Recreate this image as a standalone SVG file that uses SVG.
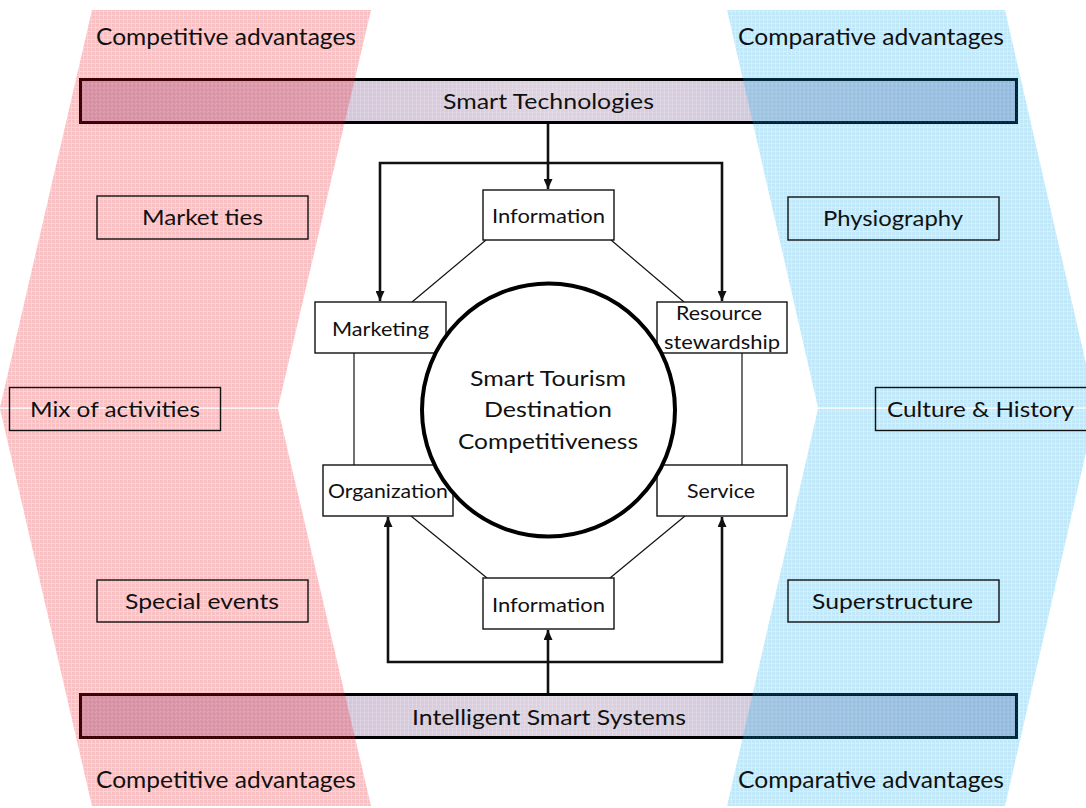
<svg xmlns="http://www.w3.org/2000/svg" width="1086" height="808" viewBox="0 0 1086 808">
<style>
text{font-family:Lato,"Open Sans","Liberation Sans",sans-serif;fill:#111;}
.big{font-size:23px;}
.mid{font-size:22px;}
.sm{font-size:19px;}
.box{fill:none;stroke:#111;stroke-width:1.4;}
.node{fill:#fff;stroke:#111;stroke-width:1.4;}
.thin{fill:none;stroke:#111;stroke-width:1.2;}
.thick{fill:none;stroke:#111;stroke-width:2.6;}
.bar{stroke:#000;stroke-width:3;}
</style>
<defs>
<pattern id="pinkGrid" width="4" height="4" patternUnits="userSpaceOnUse">
<rect width="4" height="4" fill="#e71723" fill-opacity="0.19"/>
<rect width="3" height="3" fill="#e71723" fill-opacity="0.1"/>
</pattern>
<pattern id="blueGrid" width="4" height="4" patternUnits="userSpaceOnUse">
<rect width="4" height="4" fill="#17aae6" fill-opacity="0.19"/>
<rect width="3" height="3" fill="#17aae6" fill-opacity="0.1"/>
</pattern>
<linearGradient id="barGrad" x1="80" y1="0" x2="1017" y2="0" gradientUnits="userSpaceOnUse">
<stop offset="0" stop-color="#c8b8d0"/>
<stop offset="0.5" stop-color="#ddd2e0"/>
<stop offset="1" stop-color="#c2bed8"/>
</linearGradient>
<pattern id="barLines" width="4" height="4" patternUnits="userSpaceOnUse">
<rect width="1" height="4" fill="#fff" fill-opacity="0.18"/>
<rect width="4" height="1" fill="#fff" fill-opacity="0.12"/>
</pattern>
<marker id="arr" markerWidth="10" markerHeight="9" refX="10" refY="4.5" orient="auto" markerUnits="userSpaceOnUse">
<path d="M0,0 L10,4.5 L0,9 z" fill="#111"/>
</marker>
</defs>

<g id="bar-top">
<rect class="bar" x="80.5" y="79.5" width="936" height="43" fill="url(#barGrad)"/>
<rect x="82" y="81" width="933" height="40" fill="url(#barLines)"/>
</g>
<g id="bar-bottom">
<rect class="bar" x="80.5" y="694.5" width="936" height="43" fill="url(#barGrad)"/>
<rect x="82" y="696" width="933" height="40" fill="url(#barLines)"/>
</g>

<g id="competitive-band">
<polygon points="92,10 371,10 278,407.5 0,407.5" fill="url(#pinkGrid)"/>
<polygon points="0,408.7 278,408.7 371,806 92,806" fill="url(#pinkGrid)"/>
</g>
<g id="comparative-band">
<polygon points="727,10 1005,10 1096,407.5 818,407.5" fill="url(#blueGrid)"/>
<polygon points="818,408.7 1096,408.7 1005,806 727,806" fill="url(#blueGrid)"/>
</g>

<g id="connectors">
<path class="thick" d="M548,124 V189" marker-end="url(#arr)"/>
<path class="thick" d="M549,163 H380 V301" marker-end="url(#arr)"/>
<path class="thick" d="M547,163 H722 V301" marker-end="url(#arr)"/>
<path class="thick" d="M548,693 V630" marker-end="url(#arr)"/>
<path class="thick" d="M549,662 H388 V517" marker-end="url(#arr)"/>
<path class="thick" d="M547,662 H722 V517" marker-end="url(#arr)"/>
<path class="thin" d="M486,240 L412,302"/>
<path class="thin" d="M611,240 L684,302"/>
<path class="thin" d="M354,353 V465"/>
<path class="thin" d="M742,353 V465"/>
<path class="thin" d="M411,516 L487,578"/>
<path class="thin" d="M685,516 L610,578"/>
</g>

<g id="node-information-top"><rect class="node" x="483" y="190" width="131" height="50"/></g>
<g id="node-marketing"><rect class="node" x="315" y="302" width="131" height="51"/></g>
<g id="node-resource"><rect class="node" x="657" y="302" width="130" height="51"/></g>
<g id="node-organization"><rect class="node" x="323" y="465" width="130" height="51"/></g>
<g id="node-service"><rect class="node" x="657" y="465" width="130" height="51"/></g>
<g id="node-information-bottom"><rect class="node" x="483" y="578" width="131" height="51"/></g>

<g id="node-center">
<circle cx="548.5" cy="410" r="126.5" fill="#fff" stroke="#000" stroke-width="4"/>
<text class="mid" x="548" y="386" text-anchor="middle" textLength="156" lengthAdjust="spacingAndGlyphs">Smart Tourism</text>
<text class="mid" x="548" y="417" text-anchor="middle" textLength="128" lengthAdjust="spacingAndGlyphs">Destination</text>
<text class="mid" x="548" y="449" text-anchor="middle" textLength="180" lengthAdjust="spacingAndGlyphs">Competitiveness</text>
</g>

<g id="node-labels">
<text class="sm" x="548.5" y="223" text-anchor="middle" textLength="113" lengthAdjust="spacingAndGlyphs">Information</text>
<text class="sm" x="380.5" y="336" text-anchor="middle" textLength="97" lengthAdjust="spacingAndGlyphs">Marketing</text>
<text class="sm" x="719" y="320" text-anchor="middle" textLength="86" lengthAdjust="spacingAndGlyphs">Resource</text>
<text class="sm" x="722" y="349" text-anchor="middle" textLength="116" lengthAdjust="spacingAndGlyphs">stewardship</text>
<text class="sm" x="388" y="498" text-anchor="middle" textLength="120" lengthAdjust="spacingAndGlyphs">Organization</text>
<text class="sm" x="721" y="498" text-anchor="middle" textLength="68" lengthAdjust="spacingAndGlyphs">Service</text>
<text class="sm" x="548.5" y="612" text-anchor="middle" textLength="113" lengthAdjust="spacingAndGlyphs">Information</text>
</g>

<g id="label-bars">
<text class="mid" x="548.5" y="109" text-anchor="middle" textLength="211" lengthAdjust="spacingAndGlyphs">Smart Technologies</text>
<text class="mid" x="549" y="725" text-anchor="middle" textLength="274" lengthAdjust="spacingAndGlyphs">Intelligent Smart Systems</text>
</g>

<g id="band-titles">
<text class="big" x="226" y="45" text-anchor="middle" textLength="260" lengthAdjust="spacingAndGlyphs">Competitive advantages</text>
<text class="big" x="871" y="45" text-anchor="middle" textLength="266" lengthAdjust="spacingAndGlyphs">Comparative advantages</text>
<text class="big" x="226" y="788" text-anchor="middle" textLength="260" lengthAdjust="spacingAndGlyphs">Competitive advantages</text>
<text class="big" x="871" y="788" text-anchor="middle" textLength="266" lengthAdjust="spacingAndGlyphs">Comparative advantages</text>
</g>

<g id="node-market-ties">
<rect class="box" x="97" y="196" width="211" height="43"/>
<text class="mid" x="202.5" y="225" text-anchor="middle" textLength="121" lengthAdjust="spacingAndGlyphs">Market ties</text>
</g>
<g id="node-mix">
<rect class="box" x="9.5" y="387.5" width="211" height="43"/>
<text class="mid" x="115" y="417" text-anchor="middle" textLength="170" lengthAdjust="spacingAndGlyphs">Mix of activities</text>
</g>
<g id="node-special">
<rect class="box" x="97" y="580" width="211" height="42"/>
<text class="mid" x="202" y="609" text-anchor="middle" textLength="154" lengthAdjust="spacingAndGlyphs">Special events</text>
</g>
<g id="node-physiography">
<rect class="box" x="788" y="197" width="211" height="43"/>
<text class="mid" x="893" y="226" text-anchor="middle" textLength="140" lengthAdjust="spacingAndGlyphs">Physiography</text>
</g>
<g id="node-culture">
<rect class="box" x="875.5" y="387.5" width="215" height="43"/>
<text class="mid" x="980.5" y="417" text-anchor="middle" textLength="187" lengthAdjust="spacingAndGlyphs">Culture &amp; History</text>
</g>
<g id="node-superstructure">
<rect class="box" x="788" y="580" width="211" height="42"/>
<text class="mid" x="892.5" y="609" text-anchor="middle" textLength="161" lengthAdjust="spacingAndGlyphs">Superstructure</text>
</g>
</svg>
